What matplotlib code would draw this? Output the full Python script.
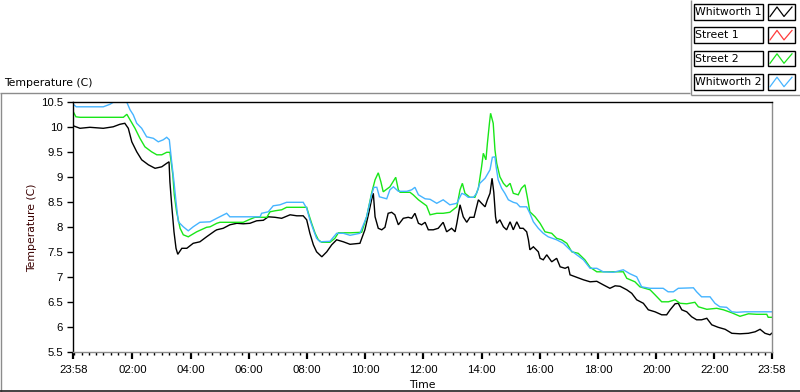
import matplotlib
matplotlib.use("Agg")
import matplotlib.pyplot as plt
from matplotlib.lines import Line2D
from matplotlib.patches import Rectangle
import numpy as np

# ---------------- data (hours after 23:58, temperature in C) ----------------
series_names = ["Whitworth 1", "Street 1", "Street 2", "Whitworth 2"]
series_colors = ["#000000", "#ff3c3c", "#19e619", "#45b4ff"]

w1_t = [0.00, 0.23, 0.57, 1.03, 1.37, 1.60, 1.77, 1.89, 2.01, 2.18, 2.35, 2.58, 2.81, 3.04, 3.21, 3.29,
        3.32, 3.38, 3.46, 3.53, 3.59, 3.73, 3.90, 4.12, 4.35, 4.58, 4.87, 4.93, 5.15, 5.38, 5.62, 5.84,
        6.07, 6.30, 6.53, 6.70, 6.93, 7.16, 7.45, 7.68, 7.90, 8.02, 8.13, 8.25, 8.36, 8.54, 8.71, 8.88,
        9.05, 9.28, 9.51, 9.85, 10.02, 10.14, 10.25, 10.31, 10.37, 10.48, 10.60, 10.71, 10.82, 10.94,
        11.05, 11.17, 11.34, 11.51, 11.63, 11.74, 11.86, 11.97, 12.09, 12.20, 12.37, 12.54, 12.71, 12.83,
        13.00, 13.12, 13.18, 13.29, 13.40, 13.52, 13.63, 13.77, 13.92, 14.03, 14.15, 14.23, 14.32, 14.39,
        14.45, 14.51, 14.55, 14.66, 14.78, 14.89, 15.01, 15.12, 15.24, 15.35, 15.46, 15.58, 15.64, 15.69,
        15.81, 15.98, 16.04, 16.15, 16.27, 16.44, 16.61, 16.73, 16.90, 17.01, 17.07, 17.30, 17.53, 17.76,
        17.99, 18.21, 18.44, 18.62, 18.79, 19.02, 19.19, 19.36, 19.59, 19.76, 19.99, 20.22, 20.39, 20.51,
        20.68, 20.79, 20.91, 21.08, 21.25, 21.42, 21.59, 21.77, 21.94, 22.16, 22.40, 22.63, 22.91, 23.20,
        23.43, 23.60, 23.77, 23.94, 24.00]
w1_v = [10.03, 9.98, 10.00, 9.98, 10.01, 10.06, 10.08, 9.98, 9.71, 9.51, 9.35, 9.25, 9.18, 9.21, 9.28, 9.31,
        8.91, 8.45, 7.91, 7.58, 7.46, 7.58, 7.58, 7.68, 7.71, 7.81, 7.93, 7.95, 7.98, 8.05, 8.08, 8.07,
        8.08, 8.13, 8.14, 8.21, 8.20, 8.18, 8.25, 8.23, 8.23, 8.15, 7.88, 7.65, 7.51, 7.41, 7.51, 7.65,
        7.75, 7.71, 7.66, 7.68, 7.95, 8.25, 8.55, 8.68, 8.21, 7.98, 7.95, 8.00, 8.28, 8.30,
        8.25, 8.05, 8.18, 8.20, 8.18, 8.28, 8.08, 8.05, 8.10, 7.95, 7.95, 7.98, 8.10, 7.91,
        7.98, 7.91, 8.08, 8.45, 8.21, 8.10, 8.20, 8.20, 8.55, 8.48, 8.41, 8.55, 8.68, 8.98,
        8.70, 8.21, 8.08, 8.15, 8.01, 7.95, 8.11, 7.95, 8.11, 7.98, 7.98, 7.91, 7.75, 7.55,
        7.61, 7.51, 7.38, 7.35, 7.45, 7.31, 7.38, 7.21, 7.18, 7.21, 7.05, 7.00, 6.95, 6.91,
        6.92, 6.85, 6.78, 6.83, 6.82, 6.75, 6.68, 6.55, 6.48, 6.35, 6.31, 6.25, 6.25, 6.35,
        6.47, 6.48, 6.35, 6.31, 6.21, 6.15, 6.15, 6.18, 6.05, 6.00, 5.96, 5.88, 5.87, 5.88,
        5.91, 5.96, 5.88, 5.85, 5.88]

s1_t = []
s1_v = []

s2_t = [0.00, 0.09, 0.23, 1.72, 1.84, 1.95, 2.12, 2.29, 2.46, 2.69, 2.87, 3.04, 3.21, 3.32, 3.42, 3.47,
        3.55, 3.67, 3.78, 3.95, 4.24, 4.58, 4.70, 4.93, 5.04, 5.84, 6.07, 6.24, 6.65, 6.76, 6.93, 7.16,
        7.33, 8.02, 8.08, 8.19, 8.31, 8.42, 8.54, 8.82, 8.99, 9.11, 9.51, 9.91, 10.08, 10.25, 10.37,
        10.48, 10.57, 10.65, 10.88, 11.08, 11.17, 11.23, 11.57, 11.68, 11.86, 12.14, 12.26, 12.49,
        12.71, 12.94, 13.18, 13.29, 13.37, 13.46, 13.63, 13.80, 13.92, 14.03, 14.09, 14.18, 14.23,
        14.30, 14.34, 14.43, 14.49, 14.55, 14.66, 14.78, 14.89, 15.01, 15.12, 15.29, 15.40, 15.52,
        15.60, 15.69, 15.87, 16.04, 16.21, 16.44, 16.61, 16.78, 16.96, 17.13, 17.35, 17.58, 17.76,
        17.99, 18.90, 19.02, 19.30, 19.47, 19.82, 19.99, 20.22, 20.45, 20.68, 20.85, 21.08, 21.36,
        21.48, 21.77, 22.11, 22.34, 22.63, 22.91, 23.20, 23.48, 23.83, 23.88, 24.00]
s2_v = [10.31, 10.21, 10.20, 10.20, 10.26, 10.15, 9.98, 9.78, 9.61, 9.51, 9.45, 9.45, 9.50, 9.50, 9.05, 8.65,
        8.31, 7.98, 7.85, 7.81, 7.91, 8.00, 8.01, 8.08, 8.10, 8.10, 8.16, 8.20, 8.20, 8.31, 8.33, 8.35,
        8.40, 8.40, 8.28, 8.08, 7.88, 7.75, 7.70, 7.70, 7.78, 7.89, 7.89, 7.90, 8.21, 8.68, 8.95,
        9.09, 8.91, 8.71, 8.81, 9.00, 8.75, 8.70, 8.70, 8.65, 8.55, 8.43, 8.25, 8.28,
        8.28, 8.30, 8.41, 8.75, 8.88, 8.68, 8.60, 8.60, 8.78, 9.21, 9.48, 9.35, 9.68,
        10.08, 10.28, 10.08, 9.55, 9.28, 9.01, 8.88, 8.81, 8.88, 8.68, 8.65, 8.78, 8.85,
        8.61, 8.31, 8.21, 8.08, 7.91, 7.88, 7.78, 7.75, 7.68, 7.51, 7.48, 7.35, 7.20,
        7.11, 7.11, 6.98, 6.91, 6.81, 6.75, 6.65, 6.51, 6.51, 6.55, 6.48, 6.47, 6.50,
        6.41, 6.36, 6.38, 6.35, 6.29, 6.22, 6.27, 6.26, 6.26, 6.20, 6.20]

w2_t = [0.00, 0.10, 1.03, 1.26, 1.37, 1.84, 1.95, 2.06, 2.18, 2.35, 2.52, 2.75, 2.92, 3.09, 3.21, 3.30,
        3.38, 3.46, 3.53, 3.61, 3.78, 3.95, 4.12, 4.35, 4.70, 4.93, 5.27, 5.38, 5.62, 6.42, 6.47, 6.70,
        6.87, 7.10, 7.33, 7.90, 8.02, 8.13, 8.25, 8.36, 8.48, 8.82, 9.05, 9.28, 9.51, 9.85, 10.08,
        10.25, 10.33, 10.43, 10.52, 10.77, 10.88, 11.00, 11.17, 11.46, 11.63, 11.74, 11.86, 12.09,
        12.26, 12.49, 12.71, 12.94, 13.18, 13.35, 13.46, 13.57, 13.75, 13.86, 13.97, 14.15, 14.32,
        14.40, 14.49, 14.53, 14.60, 14.72, 14.83, 14.95, 15.12, 15.24, 15.35, 15.58, 15.69, 15.81,
        15.98, 16.15, 16.32, 16.61, 16.84, 17.07, 17.30, 17.53, 17.76, 17.99, 18.21, 18.56, 18.90,
        19.13, 19.36, 19.53, 19.82, 20.27, 20.44, 20.62, 20.79, 21.31, 21.42, 21.59, 21.88, 22.05,
        22.22, 22.45, 22.63, 22.80, 23.08, 24.00]
w2_v = [10.46, 10.41, 10.41, 10.46, 10.50, 10.50, 10.35, 10.25, 10.08, 9.98, 9.81, 9.78, 9.71, 9.75, 9.80, 9.75,
        9.31, 8.91, 8.51, 8.11, 8.01, 7.93, 8.01, 8.10, 8.11, 8.18, 8.28, 8.21, 8.21, 8.21, 8.28, 8.31,
        8.43, 8.45, 8.50, 8.50, 8.38, 8.15, 7.95, 7.78, 7.71, 7.72, 7.88, 7.88, 7.84, 7.88, 8.21,
        8.65, 8.80, 8.80, 8.61, 8.57, 8.75, 8.81, 8.72, 8.72, 8.75, 8.80, 8.65, 8.57,
        8.56, 8.48, 8.55, 8.45, 8.48, 8.68, 8.65, 8.60, 8.60, 8.68, 8.88, 8.98, 9.15,
        9.40, 9.41, 9.21, 8.95, 8.78, 8.68, 8.55, 8.50, 8.48, 8.41, 8.41, 8.28, 8.11,
        7.98, 7.88, 7.81, 7.75, 7.68, 7.55, 7.45, 7.35, 7.18, 7.18, 7.11, 7.10, 7.15,
        7.07, 7.01, 6.81, 6.78, 6.78, 6.71, 6.71, 6.78, 6.79, 6.71, 6.61, 6.61, 6.48,
        6.41, 6.40, 6.31, 6.30, 6.31, 6.31]

x_tick_labels = ["23:58", "02:00", "04:00", "06:00", "08:00", "10:00", "12:00",
                 "14:00", "16:00", "18:00", "20:00", "22:00", "23:58"]
y_ticks = [5.5, 6, 6.5, 7, 7.5, 8, 8.5, 9, 9.5, 10, 10.5]

# ---------------- figure ----------------
W, H = 800, 392
TICK_FONT = ["Liberation Sans", "DejaVu Sans"]
TEXT_FONT = ["DejaVu Sans"]
TICK_FS = 8.2
TEXT_FS = 7.8
plt.rcParams["font.family"] = TICK_FONT

fig = plt.figure(figsize=(W / 100, H / 100), dpi=100)

def fx(x):
    return x / W

def fy(y):
    return 1 - y / H

ax_l, ax_r, ax_t, ax_b = 73.3, 771.7, 102.3, 352.3
ax = fig.add_axes([fx(ax_l), fy(ax_b), fx(ax_r) - fx(ax_l), fy(ax_t) - fy(ax_b)])

datasets = [(w1_t, w1_v), (s1_t, s1_v), (s2_t, s2_v), (w2_t, w2_v)]
order = [1, 0, 2, 3]
for i in order:
    t, v = datasets[i]
    if len(t):
        ax.plot(t, v, color=series_colors[i], lw=1.0, solid_joinstyle="miter")

ax.set_xlim(0, 24)
ax.set_ylim(5.5, 10.5)

# x ticks: start/end 23:58 and even hours; minor every 15 clock minutes
offset = 2 / 60.0
major_pos = [0.0] + [offset + 2 * k for k in range(1, 12)] + [24.0]
ax.set_xticks(major_pos)
ax.set_xticklabels(x_tick_labels)
minor_pos = [offset + 0.25 * k for k in range(96)]
ax.set_xticks(minor_pos, minor=True)

ax.set_yticks(y_ticks)
ax.set_yticklabels(["%g" % v for v in y_ticks])

ax.tick_params(axis="both", which="major", direction="out", length=4.5, width=1,
               labelsize=TICK_FS, colors="black", pad=3)
ax.tick_params(axis="x", which="minor", direction="out", length=2.5, width=1, colors="black")
ax.tick_params(axis="x", which="major", length=5, width=1.6, pad=4)

for side, col in [("left", "black"), ("top", "black"), ("right", "#8c8c8c"), ("bottom", "#8c8c8c")]:
    ax.spines[side].set_color(col)
    ax.spines[side].set_linewidth(1.0)

# labels
fig.text(fx(32.5), fy((ax_t + ax_b) / 2), "Temperature (C)", rotation=90, family=TEXT_FONT,
         ha="center", va="center", fontsize=TEXT_FS, color="#3a0000")
fig.text(fx((ax_l + ax_r) / 2), fy(385), "Time", ha="center", va="center", family=TEXT_FONT,
         fontsize=TEXT_FS, color="black")
fig.text(fx(4), fy(82.5), "Temperature (C)", ha="left", va="center", family=TEXT_FONT,
         fontsize=TEXT_FS, color="black")

# outer frame lines
def fline(x0, y0, x1, y1, color, lw=1.0):
    fig.add_artist(Line2D([fx(x0), fx(x1)], [fy(y0), fy(y1)], color=color, lw=lw,
                          transform=fig.transFigure, solid_capstyle="butt"))

fline(0, 92.5, 690, 92.5, "#8c8c8c")
fline(0.5, 92.5, 0.5, 392, "#8c8c8c")
fline(0, 391, 800, 391, "#222222", 1.2)
fline(690.5, 0, 690.5, 95, "#8c8c8c")
fline(690.5, 95, 800, 95, "#8c8c8c")

# legend (drawn as a LabVIEW style plot legend)
leg_top = 4.0
leg_step = 23.4
box_h = 15.5
for i, name in enumerate(series_names):
    y0 = leg_top + i * leg_step
    fig.add_artist(Rectangle((fx(693.5), fy(y0 + box_h)), fx(763) - fx(693.5), fy(y0) - fy(y0 + box_h),
                             transform=fig.transFigure, fill=True, facecolor="white",
                             edgecolor="black", lw=1.0))
    fig.text(fx(695), fy(y0 + box_h / 2 + 0.3), name, ha="left", va="center", family=TEXT_FONT,
             fontsize=TEXT_FS, color="black")
    fig.add_artist(Rectangle((fx(767.5), fy(y0 + box_h)), fx(795) - fx(767.5), fy(y0) - fy(y0 + box_h),
                             transform=fig.transFigure, fill=True, facecolor="white",
                             edgecolor="black", lw=1.0))
    zx = [770, 777, 784, 792]
    zy = [y0 + box_h - 3, y0 + 3, y0 + box_h - 3, y0 + 3]
    fig.add_artist(Line2D([fx(a) for a in zx], [fy(b) for b in zy], color=series_colors[i], lw=0.9,
                          transform=fig.transFigure))

fig.savefig("out.png", dpi=100)
